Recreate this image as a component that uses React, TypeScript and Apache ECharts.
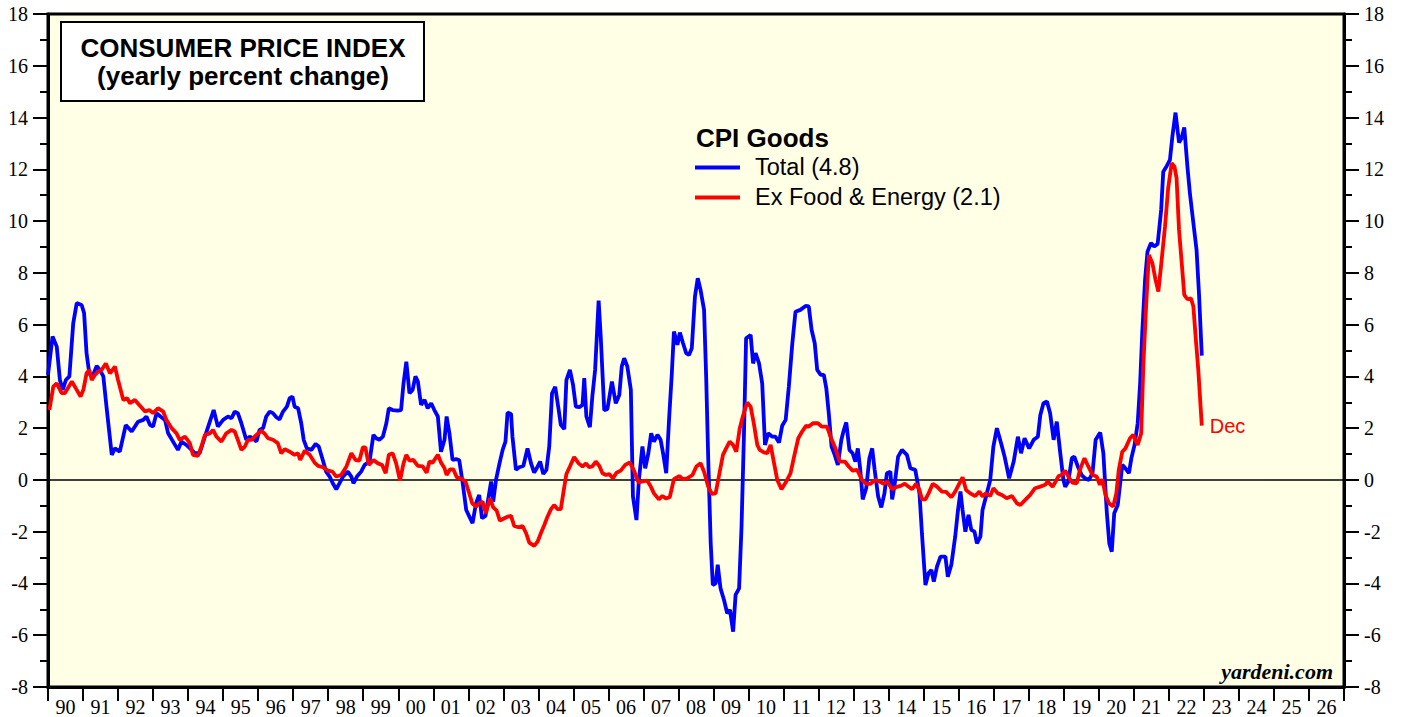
import React, { useEffect, useRef } from "react";
import * as echarts from "echarts";

const xLabels = [
  "90", "91", "92", "93", "94", "95", "96", "97", "98", "99",
  "00", "01", "02", "03", "04", "05", "06", "07", "08", "09",
  "10", "11", "12", "13", "14", "15", "16", "17", "18", "19",
  "20", "21", "22", "23", "24", "25", "26",
];

const totalYears = [
  1990.0, 1990.13, 1990.25, 1990.34, 1990.42, 1990.51, 1990.61, 1990.72, 1990.82, 1990.96,
  1991.03, 1991.1, 1991.18, 1991.27, 1991.39, 1991.48, 1991.58, 1991.67, 1991.82, 1991.91,
  1992.05, 1992.22, 1992.39, 1992.57, 1992.72, 1992.81, 1992.91, 1993.0, 1993.1, 1993.21,
  1993.34, 1993.43, 1993.57, 1993.71, 1993.81, 1993.95, 1994.1, 1994.19, 1994.33, 1994.48,
  1994.62, 1994.73, 1994.85, 1995.0, 1995.14, 1995.24, 1995.33, 1995.42, 1995.52, 1995.66,
  1995.76, 1995.85, 1995.95, 1996.04, 1996.14, 1996.23, 1996.33, 1996.42, 1996.52, 1996.61,
  1996.71, 1996.82, 1996.9, 1996.98, 1997.04, 1997.14, 1997.23, 1997.3, 1997.39, 1997.52,
  1997.64, 1997.73, 1997.83, 1997.94, 1998.04, 1998.13, 1998.23, 1998.32, 1998.42, 1998.56,
  1998.66, 1998.72, 1998.82, 1998.94, 1999.04, 1999.18, 1999.29, 1999.37, 1999.46, 1999.56,
  1999.66, 1999.73, 1999.84, 1999.99, 2000.08, 2000.15, 2000.23, 2000.32, 2000.41, 2000.49,
  2000.56, 2000.65, 2000.75, 2000.84, 2000.94, 2001.03, 2001.13, 2001.22, 2001.32, 2001.38,
  2001.46, 2001.55, 2001.65, 2001.74, 2001.84, 2001.94, 2002.03, 2002.12, 2002.22, 2002.31,
  2002.39, 2002.49, 2002.58, 2002.65, 2002.71, 2002.79, 2002.89, 2002.98, 2003.06, 2003.12,
  2003.22, 2003.26, 2003.36, 2003.45, 2003.57, 2003.69, 2003.79, 2003.88, 2003.98, 2004.05,
  2004.14, 2004.23, 2004.31, 2004.39, 2004.48, 2004.58, 2004.64, 2004.74, 2004.8, 2004.9,
  2004.99, 2005.07, 2005.17, 2005.26, 2005.31, 2005.37, 2005.47, 2005.54, 2005.62, 2005.72,
  2005.78, 2005.88, 2005.97, 2006.1, 2006.21, 2006.31, 2006.38, 2006.45, 2006.54, 2006.64,
  2006.7, 2006.8, 2006.87, 2006.97, 2007.05, 2007.14, 2007.22, 2007.3, 2007.4, 2007.49,
  2007.56, 2007.65, 2007.73, 2007.81, 2007.87, 2007.97, 2008.04, 2008.13, 2008.22, 2008.3,
  2008.38, 2008.47, 2008.55, 2008.63, 2008.73, 2008.79, 2008.85, 2008.92, 2008.98, 2009.06,
  2009.12, 2009.2, 2009.3, 2009.39, 2009.47, 2009.56, 2009.63, 2009.73, 2009.8, 2009.87,
  2009.93, 2010.06, 2010.13, 2010.2, 2010.3, 2010.39, 2010.47, 2010.56, 2010.68, 2010.77,
  2010.87, 2010.96, 2011.06, 2011.15, 2011.25, 2011.34, 2011.48, 2011.63, 2011.72, 2011.8,
  2011.89, 2011.96, 2012.06, 2012.15, 2012.22, 2012.29, 2012.37, 2012.46, 2012.55, 2012.65,
  2012.72, 2012.79, 2012.88, 2012.97, 2013.05, 2013.12, 2013.19, 2013.26, 2013.36, 2013.45,
  2013.53, 2013.6, 2013.7, 2013.79, 2013.88, 2013.95, 2014.05, 2014.1, 2014.17, 2014.27,
  2014.38, 2014.52, 2014.62, 2014.76, 2014.88, 2014.95, 2015.05, 2015.14, 2015.22, 2015.29,
  2015.38, 2015.48, 2015.62, 2015.69, 2015.79, 2015.9, 2015.98, 2016.05, 2016.11, 2016.19,
  2016.28, 2016.36, 2016.45, 2016.52, 2016.62, 2016.68, 2016.78, 2016.9, 2016.99, 2017.09,
  2017.21, 2017.31, 2017.44, 2017.57, 2017.69, 2017.78, 2017.88, 2018.01, 2018.14, 2018.26,
  2018.33, 2018.42, 2018.52, 2018.61, 2018.71, 2018.8, 2018.9, 2018.99, 2019.04, 2019.13,
  2019.23, 2019.3, 2019.4, 2019.51, 2019.61, 2019.72, 2019.82, 2019.91, 2020.04, 2020.13,
  2020.23, 2020.3, 2020.37, 2020.44, 2020.54, 2020.6, 2020.67, 2020.76, 2020.86, 2020.93,
  2021.02, 2021.11, 2021.18, 2021.24, 2021.32, 2021.39, 2021.49, 2021.58, 2021.68, 2021.78,
  2021.84, 2021.94, 2022.03, 2022.1, 2022.19, 2022.29, 2022.36, 2022.44, 2022.53, 2022.6,
  2022.7, 2022.79, 2022.86, 2022.94,
];
const totalValues = [
  4.06, 5.54, 5.15, 3.86, 3.48, 3.86, 4.0, 6.05, 6.83, 6.76,
  6.45, 4.9, 4.1, 4.0, 4.4, 4.25, 4.0, 2.83, 0.97, 1.22,
  1.09, 2.12, 1.87, 2.25, 2.32, 2.45, 2.13, 2.06, 2.58, 2.45,
  2.32, 1.8, 1.48, 1.16, 1.48, 1.35, 1.16, 1.03, 1.03, 1.67,
  2.25, 2.7, 2.06, 2.32, 2.45, 2.38, 2.64, 2.58, 2.19, 1.55,
  1.67, 1.61, 1.48, 1.93, 2.0, 2.45, 2.64, 2.58, 2.42, 2.34,
  2.64, 2.83, 3.16, 3.22, 2.83, 2.77, 2.19, 1.55, 1.22, 1.16,
  1.39, 1.29, 0.84, 0.32, 0.13, -0.13, -0.36, -0.13, 0.13, 0.32,
  0.13, -0.13, 0.13, 0.32, 0.58, 0.71, 1.74, 1.61, 1.55, 1.67,
  2.19, 2.77, 2.7, 2.68, 2.7, 3.73, 4.57, 3.35, 3.48, 4.0,
  3.8, 2.9, 3.09, 2.77, 2.96, 2.7, 2.45, 1.09, 1.55, 2.45,
  1.8, 0.77, 0.8, 0.77, -0.13, -1.16, -1.42, -1.67, -0.9, -0.58,
  -1.48, -1.39, -0.64, -0.06, -0.84, 0.0, 0.64, 1.16, 1.48, 2.6,
  2.55, 1.67, 0.39, 0.49, 0.54, 1.22, 0.64, 0.28, 0.52, 0.71,
  0.23, 0.39, 1.29, 3.35, 3.6, 2.7, 2.13, 1.96, 3.86, 4.25,
  3.67, 2.83, 2.81, 2.9, 3.93, 2.45, 2.04, 3.22, 4.25, 6.93,
  5.54, 2.7, 2.73, 3.8, 2.96, 3.28, 4.38, 4.7, 4.38, 3.48,
  -0.64, -1.55, 0.0, 1.29, 0.45, 1.03, 1.8, 1.48, 1.74, 1.55,
  1.03, 0.26, 2.32, 4.12, 5.73, 5.22, 5.69, 5.28, 4.9, 4.83,
  5.09, 7.08, 7.79, 7.34, 6.57, 4.0, 0.77, -2.45, -4.06, -4.0,
  -3.28, -4.19, -4.64, -5.15, -5.02, -5.86, -4.44, -4.19, -1.8, 1.8,
  5.47, 5.6, 4.5, 4.9, 4.5, 3.73, 1.35, 1.8, 1.67, 1.67,
  1.44, 2.09, 2.32, 3.6, 5.28, 6.5, 6.57, 6.72, 6.7, 5.8,
  5.28, 4.25, 4.06, 4.06, 3.54, 2.58, 1.29, 0.97, 0.58, 1.55,
  1.93, 2.22, 1.16, 1.03, 0.71, 1.22, 0.39, -0.75, -0.32, 0.84,
  1.22, 0.39, -0.64, -1.06, -0.52, 0.26, 0.32, -0.75, -0.19, 0.9,
  1.16, 0.97, 0.45, 0.39, -0.52, -2.06, -4.06, -3.6, -3.48, -3.93,
  -3.35, -2.96, -2.96, -3.74, -3.28, -2.19, -1.16, -0.45, -1.16, -2.0,
  -1.35, -1.93, -2.0, -2.45, -2.19, -1.16, -0.64, 0.0, 1.29, 2.0,
  1.42, 0.9, 0.06, 0.71, 1.67, 1.03, 1.61, 1.22, 1.55, 1.67,
  2.51, 2.96, 3.03, 2.58, 1.55, 2.25, 1.03, 0.0, -0.26, -0.06,
  0.84, 0.9, 0.52, 0.19, 0.06, 0.0, 0.26, 1.55, 1.83, 1.03,
  -1.29, -2.45, -2.77, -1.29, -0.97, -0.26, 0.58, 0.45, 0.26, 0.84,
  1.35, 2.19, 3.73, 5.67, 7.73, 8.82, 9.15, 9.02, 9.12, 10.43,
  11.91, 12.13, 12.36, 13.27, 14.19, 13.03, 13.2, 13.62, 12.1, 11.08,
  9.92, 8.89, 7.2, 4.8,
];

const exYears = [
  1990.04, 1990.15, 1990.25, 1990.39, 1990.48, 1990.68, 1990.82, 1990.93, 1991.01, 1991.1,
  1991.18, 1991.25, 1991.34, 1991.43, 1991.53, 1991.65, 1991.77, 1991.91, 1992.0, 1992.15,
  1992.26, 1992.34, 1992.48, 1992.6, 1992.77, 1992.89, 1993.0, 1993.14, 1993.29, 1993.38,
  1993.53, 1993.67, 1993.76, 1993.91, 1994.05, 1994.14, 1994.28, 1994.38, 1994.48, 1994.62,
  1994.71, 1994.81, 1994.95, 1995.09, 1995.24, 1995.33, 1995.42, 1995.52, 1995.62, 1995.71,
  1995.81, 1995.95, 1996.09, 1996.19, 1996.28, 1996.42, 1996.56, 1996.66, 1996.76, 1996.9,
  1997.04, 1997.14, 1997.2, 1997.33, 1997.47, 1997.61, 1997.71, 1997.85, 1997.99, 1998.12,
  1998.23, 1998.37, 1998.52, 1998.66, 1998.78, 1998.89, 1998.99, 1999.06, 1999.16, 1999.29,
  1999.42, 1999.54, 1999.64, 1999.73, 1999.84, 1999.94, 2000.05, 2000.15, 2000.23, 2000.32,
  2000.43, 2000.56, 2000.7, 2000.81, 2000.89, 2000.98, 2001.13, 2001.22, 2001.32, 2001.38,
  2001.48, 2001.57, 2001.67, 2001.79, 2001.92, 2002.01, 2002.11, 2002.22, 2002.31, 2002.41,
  2002.5, 2002.62, 2002.71, 2002.81, 2002.9, 2003.03, 2003.12, 2003.22, 2003.31, 2003.43,
  2003.55, 2003.65, 2003.74, 2003.88, 2003.98, 2004.07, 2004.17, 2004.26, 2004.36, 2004.45,
  2004.55, 2004.64, 2004.71, 2004.8, 2004.9, 2005.02, 2005.15, 2005.26, 2005.36, 2005.45,
  2005.54, 2005.64, 2005.74, 2005.83, 2005.93, 2006.02, 2006.13, 2006.23, 2006.35, 2006.48,
  2006.61, 2006.73, 2006.86, 2006.97, 2007.11, 2007.21, 2007.3, 2007.44, 2007.54, 2007.64,
  2007.75, 2007.87, 2008.02, 2008.13, 2008.25, 2008.4, 2008.51, 2008.63, 2008.73, 2008.85,
  2008.95, 2009.06, 2009.16, 2009.27, 2009.36, 2009.46, 2009.56, 2009.65, 2009.75, 2009.84,
  2009.96, 2010.06, 2010.15, 2010.25, 2010.32, 2010.44, 2010.53, 2010.63, 2010.72, 2010.82,
  2010.94, 2011.06, 2011.2, 2011.3, 2011.42, 2011.53, 2011.64, 2011.72, 2011.84, 2011.98,
  2012.09, 2012.24, 2012.34, 2012.48, 2012.6, 2012.75, 2012.86, 2012.97, 2013.1, 2013.24,
  2013.36, 2013.48, 2013.62, 2013.74, 2013.86, 2013.95, 2014.1, 2014.21, 2014.34, 2014.46,
  2014.57, 2014.67, 2014.78, 2014.88, 2014.95, 2015.05, 2015.14, 2015.26, 2015.38, 2015.52,
  2015.64, 2015.79, 2015.9, 2016.02, 2016.11, 2016.21, 2016.33, 2016.47, 2016.59, 2016.68,
  2016.77, 2016.9, 2016.99, 2017.12, 2017.23, 2017.37, 2017.52, 2017.66, 2017.76, 2017.9,
  2018.04, 2018.18, 2018.33, 2018.47, 2018.54, 2018.68, 2018.77, 2018.85, 2018.94, 2019.04,
  2019.13, 2019.24, 2019.37, 2019.46, 2019.59, 2019.7, 2019.82, 2019.94, 2020.03, 2020.1,
  2020.19, 2020.29, 2020.41, 2020.5, 2020.57, 2020.67, 2020.76, 2020.89, 2020.98, 2021.11,
  2021.21, 2021.27, 2021.35, 2021.43, 2021.53, 2021.62, 2021.7, 2021.79, 2021.89, 2021.98,
  2022.08, 2022.16, 2022.22, 2022.29, 2022.36, 2022.44, 2022.53, 2022.63, 2022.7, 2022.76,
  2022.84, 2022.94,
];
const exValues = [
  2.7, 3.6, 3.73, 3.35, 3.35, 3.8, 3.48, 3.22, 3.48, 4.12,
  4.25, 3.86, 4.06, 4.18, 4.25, 4.5, 4.12, 4.38, 3.86, 3.09,
  3.16, 2.96, 3.09, 2.9, 2.64, 2.7, 2.58, 2.77, 2.64, 2.32,
  2.0, 1.8, 1.55, 1.67, 1.42, 0.97, 0.93, 1.29, 1.74, 1.8,
  1.93, 1.67, 1.48, 1.8, 1.93, 1.87, 1.55, 1.16, 1.29, 1.55,
  1.55, 1.74, 1.9, 1.78, 1.61, 1.55, 1.42, 1.03, 1.19, 1.09,
  0.97, 1.03, 0.77, 1.13, 0.97, 0.67, 0.54, 0.49, 0.36, 0.32,
  0.13, 0.19, 0.52, 1.03, 0.77, 0.75, 1.26, 1.26, 0.58, 0.77,
  0.64, 0.58, 0.26, 0.97, 1.03, 0.64, -0.03, 0.64, 0.97, 0.75,
  0.77, 0.54, 0.52, 0.28, 0.71, 0.67, 0.97, 0.67, 0.45, 0.19,
  0.41, 0.41, 0.1, 0.06, -0.06, -0.45, -0.9, -1.03, -0.9, -0.84,
  -1.29, -0.71, -1.06, -1.19, -1.57, -1.48, -1.42, -1.39, -1.78, -1.83,
  -1.78, -2.06, -2.42, -2.55, -2.38, -2.06, -1.74, -1.42, -1.13, -0.97,
  -1.13, -1.13, -0.52, 0.23, 0.52, 0.88, 0.64, 0.52, 0.64, 0.49,
  0.52, 0.71, 0.54, 0.26, 0.19, 0.23, 0.06, 0.28, 0.36, 0.58,
  0.68, 0.36, -0.1, -0.06, -0.03, -0.26, -0.52, -0.75, -0.62, -0.71,
  -0.67, 0.03, 0.15, 0.03, 0.06, 0.19, 0.52, 0.64, 0.32, -0.26,
  -0.54, -0.52, 0.19, 0.97, 1.22, 1.48, 1.35, 1.09, 2.0, 2.47,
  2.99, 2.83, 2.19, 1.35, 1.16, 1.06, 1.03, 1.35, 0.71, 0.0,
  -0.36, -0.1, 0.26, 0.9, 1.61, 1.87, 2.09, 2.06, 2.19, 2.19,
  2.06, 2.06, 1.67, 1.22, 0.71, 0.71, 0.52, 0.36, 0.39, 0.0,
  -0.15, -0.15, 0.0, -0.06, -0.15, -0.06, -0.36, -0.28, -0.23, -0.15,
  -0.26, -0.36, -0.15, -0.39, -0.75, -0.75, -0.52, -0.15, -0.26, -0.45,
  -0.46, -0.67, -0.45, -0.13, 0.1, -0.39, -0.52, -0.62, -0.45, -0.64,
  -0.52, -0.62, -0.32, -0.52, -0.58, -0.71, -0.62, -0.9, -0.97, -0.77,
  -0.58, -0.32, -0.26, -0.19, -0.06, -0.26, -0.06, 0.15, 0.19, 0.36,
  0.13, -0.1, -0.13, 0.39, 0.84, 0.52, 0.19, 0.13, -0.19, 0.03,
  -0.58, -0.9, -1.03, -0.52, 0.39, 1.09, 1.22, 1.61, 1.74, 1.35,
  1.8, 4.38, 6.7, 8.69, 8.37, 7.73, 7.28, 8.44, 9.79, 11.27,
  12.24, 12.1, 11.66, 9.66, 8.5, 7.15, 6.98, 7.02, 6.7, 5.6,
  4.25, 2.1,
];

const titleLines = ["CONSUMER PRICE INDEX", "(yearly percent change)"];
const legendTitle = "CPI Goods";
const seriesNames = ["Total (4.8)", "Ex Food & Energy (2.1)"];
const endLabelText = "Dec";
const sourceText = "yardeni.com";

const zip = (xs: number[], ys: number[]) => xs.map((x, i) => [x, ys[i]]);

const SERIF = '"Liberation Serif", "Times New Roman", serif';
const SANS = '"Liberation Sans", Arial, sans-serif';

export default function App() {
  const ref = useRef<HTMLDivElement>(null);
  useEffect(() => {
    const chart = echarts.init(ref.current!, null, { renderer: "svg" });
    const yAxisBase = {
      type: "value",
      min: -8,
      max: 18,
      interval: 2,
      splitLine: { show: false },
      axisLine: { show: true, lineStyle: { color: "#000", width: 3 } },
      axisTick: { show: true, inside: false, length: 15, lineStyle: { color: "#000", width: 2 } },
      minorTick: { show: true, splitNumber: 2, length: 8, lineStyle: { color: "#000", width: 2 } },
      minorSplitLine: { show: false },
      axisLabel: { color: "#000", fontFamily: SERIF, fontSize: 20, margin: 20 },
    };
    chart.setOption({
      animation: false,
      backgroundColor: "#ffffff",
      grid: {
        left: 48,
        right: 59,
        top: 14,
        bottom: 30,
        show: true,
        backgroundColor: "#FFFFE6",
        borderColor: "#000",
        borderWidth: 3,
      },
      xAxis: [
        {
          type: "value",
          min: 1990,
          max: 2027,
          interval: 1,
          axisLine: { show: true, onZero: true, lineStyle: { color: "#000", width: 1.5 } },
          axisTick: { show: false },
          axisLabel: { show: false },
          splitLine: { show: false },
        },
        {
          type: "category",
          data: xLabels,
          position: "bottom",
          boundaryGap: true,
          axisLine: { show: true, onZero: false, lineStyle: { color: "#000", width: 3 } },
          axisTick: { show: true, inside: false, length: 14, lineStyle: { color: "#000", width: 2 } },
          axisLabel: { color: "#000", fontFamily: SERIF, fontSize: 20, margin: 10, interval: 0 },
          splitLine: { show: false },
        },
      ],
      yAxis: [
        { ...yAxisBase, position: "left" },
        { ...yAxisBase, position: "right" },
      ],
      series: [
        {
          type: "line",
          name: seriesNames[0],
          xAxisIndex: 0,
          yAxisIndex: 0,
          data: zip(totalYears, totalValues),
          symbol: "none",
          showSymbol: false,
          lineStyle: { color: "#0000ff", width: 3.8 },
          itemStyle: { color: "#0000ff" },
          z: 3,
        },
        {
          type: "line",
          name: seriesNames[1],
          xAxisIndex: 0,
          yAxisIndex: 0,
          data: zip(exYears, exValues),
          symbol: "none",
          showSymbol: false,
          lineStyle: { color: "#ff0000", width: 3.8 },
          itemStyle: { color: "#ff0000" },
          endLabel: {
            show: true,
            formatter: endLabelText,
            color: "#ff0000",
            fontFamily: SANS,
            fontSize: 20,
            distance: 8,
          },
          z: 4,
        },
      ],
      graphic: [
        {
          type: "rect",
          z: 10,
          shape: { x: 61, y: 22, width: 363, height: 79 },
          style: { fill: "#ffffff", stroke: "#000", lineWidth: 2 },
        },
        {
          type: "text",
          z: 11,
          x: 243,
          y: 48,
          style: {
            text: titleLines[0],
            fill: "#000",
            fontFamily: SANS,
            fontWeight: "bold",
            fontSize: 26,
            align: "center",
            verticalAlign: "middle",
          },
        },
        {
          type: "text",
          z: 11,
          x: 243,
          y: 76,
          style: {
            text: titleLines[1],
            fill: "#000",
            fontFamily: SANS,
            fontWeight: "bold",
            fontSize: 26,
            align: "center",
            verticalAlign: "middle",
          },
        },
        {
          type: "text",
          z: 11,
          x: 696,
          y: 138,
          style: {
            text: legendTitle,
            fill: "#000",
            fontFamily: SANS,
            fontWeight: "bold",
            fontSize: 26,
            align: "left",
            verticalAlign: "middle",
          },
        },
        {
          type: "line",
          z: 11,
          shape: { x1: 695, y1: 167.5, x2: 740, y2: 167.5 },
          style: { stroke: "#0000ff", lineWidth: 4 },
        },
        {
          type: "text",
          z: 11,
          x: 755,
          y: 167,
          style: {
            text: seriesNames[0],
            fill: "#000",
            fontFamily: SANS,
            fontSize: 23.5,
            align: "left",
            verticalAlign: "middle",
          },
        },
        {
          type: "line",
          z: 11,
          shape: { x1: 695, y1: 197.5, x2: 740, y2: 197.5 },
          style: { stroke: "#ff0000", lineWidth: 4 },
        },
        {
          type: "text",
          z: 11,
          x: 755,
          y: 197,
          style: {
            text: seriesNames[1],
            fill: "#000",
            fontFamily: SANS,
            fontSize: 23.5,
            align: "left",
            verticalAlign: "middle",
          },
        },
        {
          type: "text",
          z: 11,
          x: 1333,
          y: 671,
          style: {
            text: sourceText,
            fill: "#000",
            fontFamily: SERIF,
            fontWeight: "bold",
            fontStyle: "italic",
            fontSize: 22,
            align: "right",
            verticalAlign: "middle",
          },
        },
      ],
    });
    return () => chart.dispose();
  }, []);
  return (
    <div
      ref={ref}
      style={{ position: "fixed", left: 0, top: 0, width: 1403, height: 717 }}
    />
  );
}
